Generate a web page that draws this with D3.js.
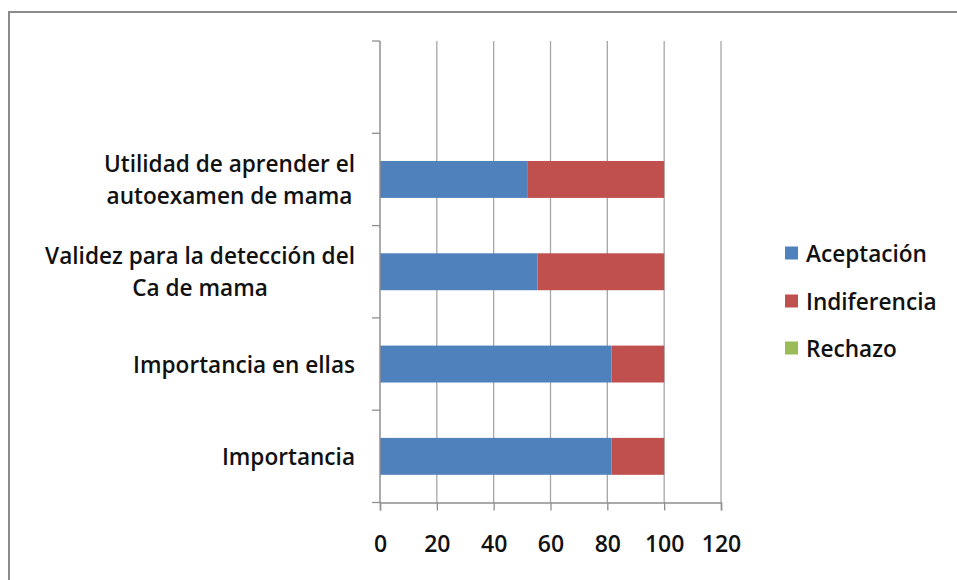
<!DOCTYPE html>
<html>
<head>
<meta charset="utf-8">
<script src="https://cdn.jsdelivr.net/npm/d3@7"></script>
<style>
  html, body { margin: 0; padding: 0; background: #fff; }
  svg { display: block; }
  text { font-family: "Open Sans", Lato, sans-serif; font-weight: 600; fill: #111; }
</style>
</head>
<body>
<svg id="chart" width="957" height="580"></svg>
<script>
// ---- data ----
const categoryKeys = ["Importancia", "Importancia en ellas", "Validez", "Utilidad", "blank"];
const categoryLines = [
  ["Importancia"],
  ["Importancia en ellas"],
  ["Validez para la detección del", "Ca de mama"],
  ["Utilidad de aprender el", "autoexamen de mama"],
  []
];
const seriesNames = ["Aceptación", "Indiferencia", "Rechazo"];
const aceptacion   = [81.5, 81.5, 55.4, 51.8];
const indiferencia = [18.5, 18.5, 44.6, 48.2];
const rechazo      = [0, 0, 0, 0];
const xTickValues  = [0, 20, 40, 60, 80, 100, 120];
const seriesColors = ["#4F81BD", "#C0504D", "#9BBB59"];

// ---- layout ----
const svg = d3.select("#chart");
const plot = { left: 380, right: 721, top: 41, bottom: 502.5 };

// frame (top and left edges visible)
svg.append("path")
  .attr("d", `M9,590 L9,12 L970,12`)
  .attr("fill", "none").attr("stroke", "#8a8a8a").attr("stroke-width", 2);

const x = d3.scaleLinear().domain([0, 120]).range([plot.left, plot.right]);
const y = d3.scaleBand().domain(categoryKeys).range([plot.bottom, plot.top]).paddingInner(0).paddingOuter(0);

// gridlines
svg.append("g").selectAll("line")
  .data(xTickValues.filter(d => d !== 0))
  .join("line")
  .attr("x1", d => x(d)).attr("x2", d => x(d))
  .attr("y1", plot.top).attr("y2", plot.bottom)
  .attr("stroke", "#a6a6a6").attr("stroke-width", 1.3);

// stacked bars
const stackData = categoryKeys.slice(0, 4).map((k, i) => ({ key: k, s0: aceptacion[i], s1: indiferencia[i], s2: rechazo[i] }));
const stacked = d3.stack().keys(["s0", "s1", "s2"])(stackData);
const barH = y.bandwidth() * 0.4;

svg.append("g").selectAll("g")
  .data(stacked)
  .join("g")
  .attr("fill", (d, i) => seriesColors[i])
  .selectAll("rect")
  .data(d => d)
  .join("rect")
  .attr("x", d => x(d[0]))
  .attr("width", d => Math.max(0, x(d[1]) - x(d[0])))
  .attr("y", d => y(d.data.key) + (y.bandwidth() - barH) / 2)
  .attr("height", barH);

// x axis
const xAxis = d3.axisBottom(x).tickValues(xTickValues).tickSize(8).tickPadding(25).tickFormat(d3.format("d"));
const gx = svg.append("g").attr("transform", `translate(0,${plot.bottom})`).call(xAxis);
gx.select(".domain").attr("stroke", "#8f8f8f").attr("stroke-width", 1.5);
gx.selectAll(".tick line").attr("stroke", "#8f8f8f").attr("stroke-width", 1.3);
gx.selectAll(".tick text")
  .attr("font-family", "'Open Sans', Lato, sans-serif")
  .attr("font-weight", 600)
  .attr("font-size", 23).attr("fill", "#111");

// y axis: line + ticks at band boundaries
svg.append("line")
  .attr("x1", plot.left).attr("x2", plot.left)
  .attr("y1", plot.top).attr("y2", plot.bottom)
  .attr("stroke", "#8f8f8f").attr("stroke-width", 1.5);
const boundaries = categoryKeys.map(k => y(k)).concat([plot.bottom]);
svg.append("g").selectAll("line")
  .data(boundaries)
  .join("line")
  .attr("x1", plot.left - 8).attr("x2", plot.left)
  .attr("y1", d => d).attr("y2", d => d)
  .attr("stroke", "#8f8f8f").attr("stroke-width", 1.3);

// category labels (centered lines, block right-aligned)
const lineH = 32;
const fontSize = 22.6;
categoryKeys.forEach((k, i) => {
  const lines = categoryLines[i];
  if (!lines.length) return;
  const cy = y(k) + y.bandwidth() / 2;
  const g = svg.append("g");
  const texts = g.selectAll("text").data(lines).join("text")
    .attr("font-size", fontSize)
    .attr("dominant-baseline", "central")
    .attr("y", (d, j) => cy + (j - (lines.length - 1) / 2) * lineH)
    .text(d => d);
  const maxW = d3.max(texts.nodes().map(n => n.getComputedTextLength()));
  const rightEdge = 355;
  texts.attr("x", rightEdge - maxW / 2).attr("text-anchor", "middle");
});

// legend
const legendRows = [253, 301, 348];
const lg = svg.append("g");
seriesNames.forEach((name, i) => {
  lg.append("rect")
    .attr("x", 785).attr("y", legendRows[i] - 6.5)
    .attr("width", 13).attr("height", 13)
    .attr("fill", seriesColors[i]);
  lg.append("text")
    .attr("x", 806).attr("y", legendRows[i])
    .attr("dominant-baseline", "central")
    .attr("font-size", 22.6)
    .text(name);
});
</script>
</body>
</html>
